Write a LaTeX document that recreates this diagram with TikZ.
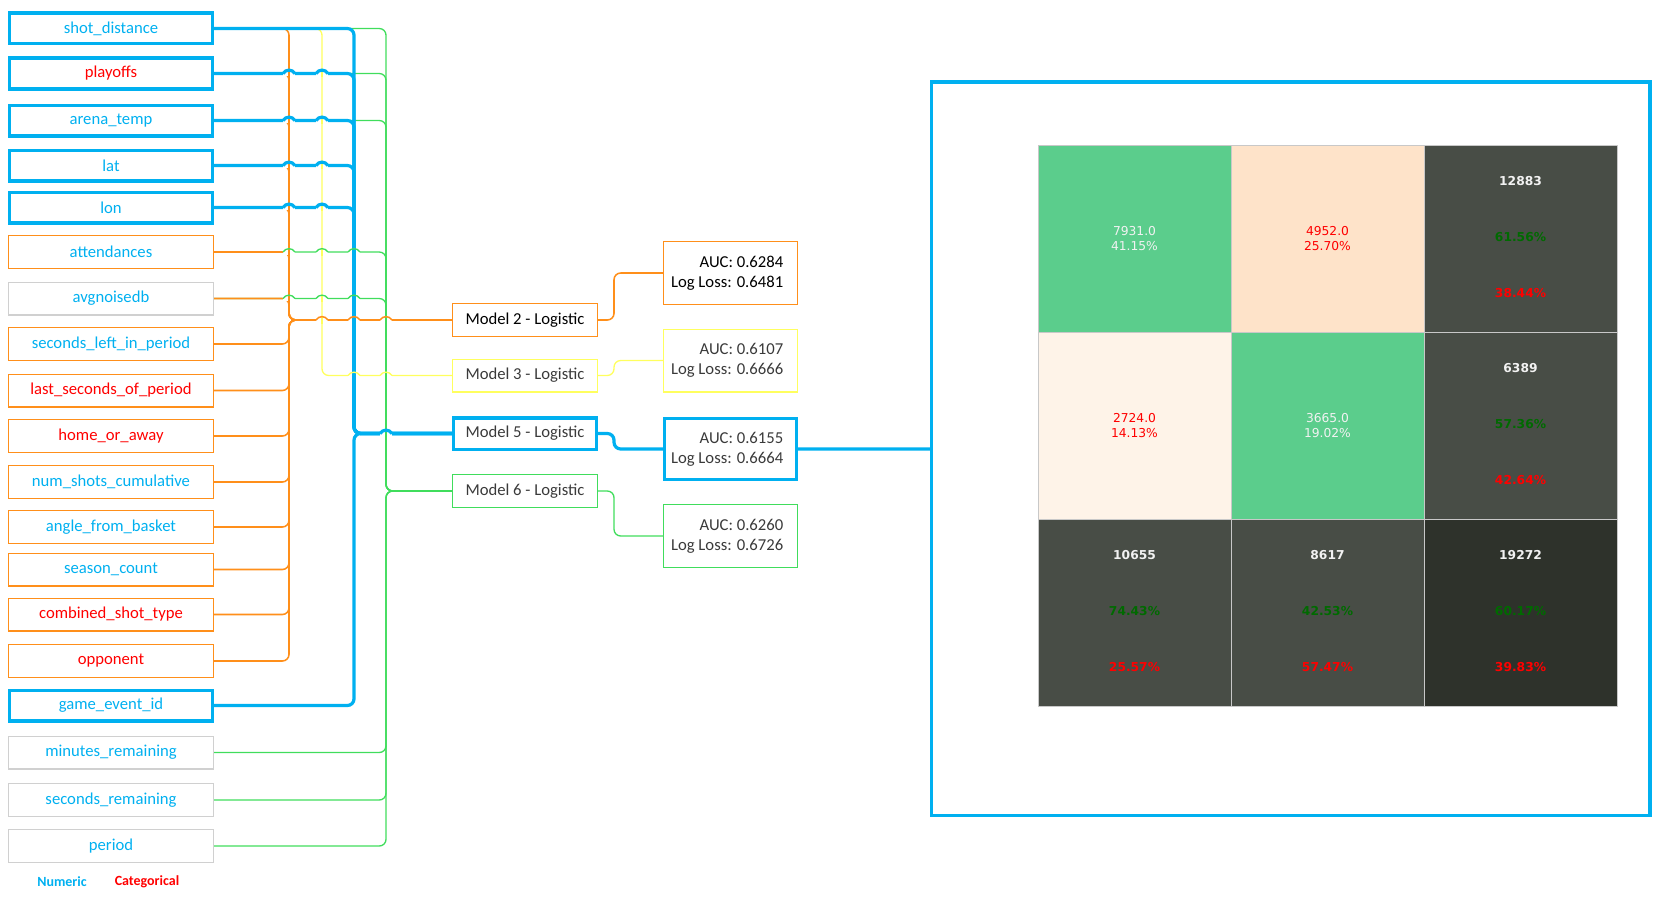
\documentclass[tikz,border=0pt]{standalone}
\usepackage{fontspec}
\setmainfont{Carlito}
\newfontfamily\heatfont{DejaVu Sans}
\usetikzlibrary{calc}
\definecolor{numblue}{HTML}{00B0F0}
\definecolor{catred}{HTML}{FF0000}
\definecolor{m2orange}{HTML}{FF8F1A}
\definecolor{m3yellow}{HTML}{FFFF5E}
\definecolor{m6green}{HTML}{40DD5C}
\definecolor{boxgray}{HTML}{D0D0D0}
\definecolor{modeltext}{HTML}{3A3A3A}
\definecolor{cellgreen}{HTML}{5BCD8C}
\definecolor{cellpeach}{HTML}{FEE3C9}
\definecolor{celllight}{HTML}{FEF3E8}
\definecolor{celldark}{HTML}{484D46}
\definecolor{celldarker}{HTML}{2E322B}
\definecolor{cellline}{HTML}{C8C8C8}
\definecolor{cellwhite}{HTML}{F2F2F2}
\definecolor{pctgreen}{HTML}{006A00}
\newcommand\labelsize{\fontsize{12.5}{15}\selectfont}
% a wire (#3) hopping over a trunk (#4) at row #1, trunk #2
\newcommand\hop[4]{%
  \fill[white] ($(#1 -| #2)+(-6,-2.7)$) rectangle ($(#1 -| #2)+(6,2.7)$);
  \draw[#4] ($(#1 -| #2)+(0,-3.5)$) -- ($(#1 -| #2)+(0,3.5)$);
  \draw[#3] ($(#1 -| #2)+(-6,0)$) .. controls ($(#1 -| #2)+(-3,-4.5)$) and ($(#1 -| #2)+(3,-4.5)$) .. ($(#1 -| #2)+(6,0)$);
}
\newcommand\scorelines[2]{#1\hspace*{5pt}\\#2\hspace*{5pt}}
\tikzset{
  feat/.style={draw=#1, line width=0.9pt, minimum width=153.6pt, minimum height=24.6pt,
    inner sep=0pt, font=\labelsize},
  keyfeat/.style={draw=numblue, line width=2.6pt, minimum width=151.9pt, minimum height=22.9pt,
    inner sep=0pt, font=\labelsize},
  model/.style={draw=#1, line width=0.9pt, minimum width=108.6pt, minimum height=24.6pt,
    inner sep=0pt, font=\labelsize, text=modeltext},
  keymodel/.style={draw=numblue, line width=2.6pt, minimum width=106.9pt, minimum height=23.6pt,
    inner sep=0pt, font=\labelsize, text=modeltext},
  score/.style={draw=#1, line width=0.9pt, minimum width=100.4pt, minimum height=47.1pt,
    inner sep=0pt, align=right, font=\labelsize, text=modeltext},
  keyscore/.style={draw=numblue, line width=2.6pt, minimum width=98.7pt, minimum height=45.4pt,
    inner sep=0pt, align=right, font=\labelsize, text=modeltext},
  legend/.style={font=\fontsize{10.5}{12}\selectfont\bfseries},
  wire/.style={rounded corners=5pt, line width=1pt},
  m2wire/.style={wire, draw=m2orange, line width=1.15pt},
  m3wire/.style={wire, draw=m3yellow},
  m5wire/.style={wire, draw=numblue, line width=2.4pt},
  m6wire/.style={wire, draw=m6green},
  cell/.style={draw=cellline, line width=0.75pt, minimum width=144.75pt, minimum height=140.25pt,
    inner sep=0pt, align=center, font=\heatfont\fontsize{9.2}{11.5}\selectfont},
  cellnum/.style={font=\heatfont\bfseries\fontsize{9.2}{11}\selectfont, text=cellwhite},
  cellgood/.style={font=\heatfont\bfseries\fontsize{9.2}{11}\selectfont, text=pctgreen},
  cellbad/.style={font=\heatfont\bfseries\fontsize{9.2}{11}\selectfont, text=catred}
}
\begin{document}
\begin{tikzpicture}[x=0.75pt,y=-0.75pt]
  \useasboundingbox (0,0) rectangle (1676,899);

  % features
  \node[keyfeat, text=numblue] (sd) at (111,28.5) {shot\_distance};
  \node[keyfeat, text=catred] (po) at (111,73.5) {playoffs};
  \node[keyfeat, text=numblue] (at) at (111,120.5) {arena\_temp};
  \node[keyfeat, text=numblue] (lat) at (111,165.5) {lat};
  \node[keyfeat, text=numblue] (lon) at (111,207.5) {lon};
  \node[feat=m2orange, text=numblue] (att) at (111,252) {attendances};
  \node[feat=boxgray, text=numblue] (avg) at (111,298.5) {avgnoisedb};
  \node[feat=m2orange, text=numblue] (sl) at (111,344) {seconds\_left\_in\_period};
  \node[feat=m2orange, text=catred] (ls) at (111,390.5) {last\_seconds\_of\_period};
  \node[feat=m2orange, text=catred] (ha) at (111,436) {home\_or\_away};
  \node[feat=m2orange, text=numblue] (ns) at (111,482) {num\_shots\_cumulative};
  \node[feat=m2orange, text=numblue] (ab) at (111,527) {angle\_from\_basket};
  \node[feat=m2orange, text=numblue] (sc) at (111,569.5) {season\_count};
  \node[feat=m2orange, text=catred] (ct) at (111,614.5) {combined\_shot\_type};
  \node[feat=m2orange, text=catred] (op) at (111,661) {opponent};
  \node[keyfeat, text=numblue] (ge) at (111,705.5) {game\_event\_id};
  \node[feat=boxgray, text=numblue] (mr) at (111,752.5) {minutes\_remaining};
  \node[feat=boxgray, text=numblue] (sr) at (111,800) {seconds\_remaining};
  \node[feat=boxgray, text=numblue] (pe) at (111,846) {period};
  \node[legend, text=numblue] (numkey) at (62,882) {Numeric};
  \node[legend, text=catred] (catkey) at (147,882) {Categorical};

  % models and scores
  \node[model=m2orange, text=black] (m2) at (525,320) {Model 2 - Logistic};
  \node[model=m3yellow] (m3) at (525,375.5) {Model 3 - Logistic};
  \node[keymodel] (m5) at (525,433.5) {Model 5 - Logistic};
  \node[model=m6green] (m6) at (525,491) {Model 6 - Logistic};
  \node[score=m2orange, text=black] (auc2) at (730.5,273) {\scorelines{AUC: 0.6284}{Log Loss: 0.6481}};
  \node[score=m3yellow] (auc3) at (730.5,360.5) {\scorelines{AUC: 0.6107}{Log Loss: 0.6666}};
  \node[keyscore] (auc5) at (730.5,449) {\scorelines{AUC: 0.6155}{Log Loss: 0.6664}};
  \node[score=m6green] (auc6) at (730.5,536) {\scorelines{AUC: 0.6260}{Log Loss: 0.6726}};

  % trunks
  \coordinate (otr) at (289,0);
  \coordinate (ytr) at (322,0);
  \coordinate (btr) at (354,0);
  \coordinate (gtr) at (386,0);

  % model 6
  \foreach \f in {sd,po,at,att,avg,mr,sr,pe}
    \draw[m6wire] (\f.east) -| (gtr |- m6.west) -- (m6.west);
  % model 3
  \draw[m3wire] (sd.east) -| (ytr |- m3.west) -- (m3.west);
  % model 2
  \foreach \f in {sd,po,at,lat,lon,att,avg,sl,ls,ha,ns,ab,sc,ct,op}
    \draw[m2wire] (\f.east) -| (otr |- m2.west) -- (m2.west);
  % model 5
  \foreach \f in {sd,po,at,lat,lon,ge}
    \draw[m5wire] (\f.east) -| (btr |- m5.west) -- (m5.west);

  % hops
  \foreach \f in {po,at,lat,lon} {
    \hop{\f.east}{otr}{m5wire}{m2wire}
    \hop{\f.east}{ytr}{m5wire}{m3wire}
  }
  \foreach \f in {att,avg} {
    \hop{\f.east}{otr}{m6wire}{m2wire}
    \hop{\f.east}{ytr}{m6wire}{m3wire}
    \hop{\f.east}{btr}{m6wire}{m5wire}
  }
  \hop{m2.west}{ytr}{m2wire}{m3wire}
  \hop{m2.west}{btr}{m2wire}{m5wire}
  \hop{m2.west}{gtr}{m2wire}{m6wire}
  \hop{m3.west}{btr}{m3wire}{m5wire}
  \hop{m3.west}{gtr}{m3wire}{m6wire}
  \hop{m5.west}{gtr}{m5wire}{m6wire}

  % scores
  \draw[m2wire] (m2.east) -- ++(16,0) |- (auc2.west);
  \draw[m3wire] (m3.east) -- ++(16,0) |- (auc3.west);
  \draw[m5wire] (m5.east) -- ++(16,0) |- (auc5.west);
  \draw[m6wire] (m6.east) -- ++(16,0) |- (auc6.west);

  % confusion matrix of model 5
  \node[draw=numblue, line width=2.5pt, minimum width=538.9pt, minimum height=550.3pt] (frame) at (1290.75,448.9) {};
  \draw[m5wire] (auc5.east) -- (frame.west);

  \node[cell, fill=cellgreen, text=cellwhite] (c11) at (1134.5,238.5) {7931.0\\41.15\%};
  \node[cell, fill=cellpeach, text=catred] (c12) at (1327.5,238.5) {4952.0\\25.70\%};
  \node[cell, fill=celldark] (c13) at (1520.5,238.5) {};
  \node[cell, fill=celllight, text=catred] (c21) at (1134.5,425.5) {2724.0\\14.13\%};
  \node[cell, fill=cellgreen, text=cellwhite] (c22) at (1327.5,425.5) {3665.0\\19.02\%};
  \node[cell, fill=celldark] (c23) at (1520.5,425.5) {};
  \node[cell, fill=celldark] (c31) at (1134.5,612.5) {};
  \node[cell, fill=celldark] (c32) at (1327.5,612.5) {};
  \node[cell, fill=celldarker] (c33) at (1520.5,612.5) {};

  \node[cellnum] (t13) at ($(c13.north)+(0,36.5)$) {12883};
  \node[cellgood] (g13) at ($(c13.north)+(0,92.5)$) {61.56\%};
  \node[cellbad] (b13) at ($(c13.north)+(0,149)$) {38.44\%};
  \node[cellnum] (t23) at ($(c23.north)+(0,36.5)$) {6389};
  \node[cellgood] (g23) at ($(c23.north)+(0,92.5)$) {57.36\%};
  \node[cellbad] (b23) at ($(c23.north)+(0,149)$) {42.64\%};
  \node[cellnum] (t31) at ($(c31.north)+(0,36.5)$) {10655};
  \node[cellgood] (g31) at ($(c31.north)+(0,92.5)$) {74.43\%};
  \node[cellbad] (b31) at ($(c31.north)+(0,149)$) {25.57\%};
  \node[cellnum] (t32) at ($(c32.north)+(0,36.5)$) {8617};
  \node[cellgood] (g32) at ($(c32.north)+(0,92.5)$) {42.53\%};
  \node[cellbad] (b32) at ($(c32.north)+(0,149)$) {57.47\%};
  \node[cellnum] (t33) at ($(c33.north)+(0,36.5)$) {19272};
  \node[cellgood] (g33) at ($(c33.north)+(0,92.5)$) {60.17\%};
  \node[cellbad] (b33) at ($(c33.north)+(0,149)$) {39.83\%};
\end{tikzpicture}
\end{document}
